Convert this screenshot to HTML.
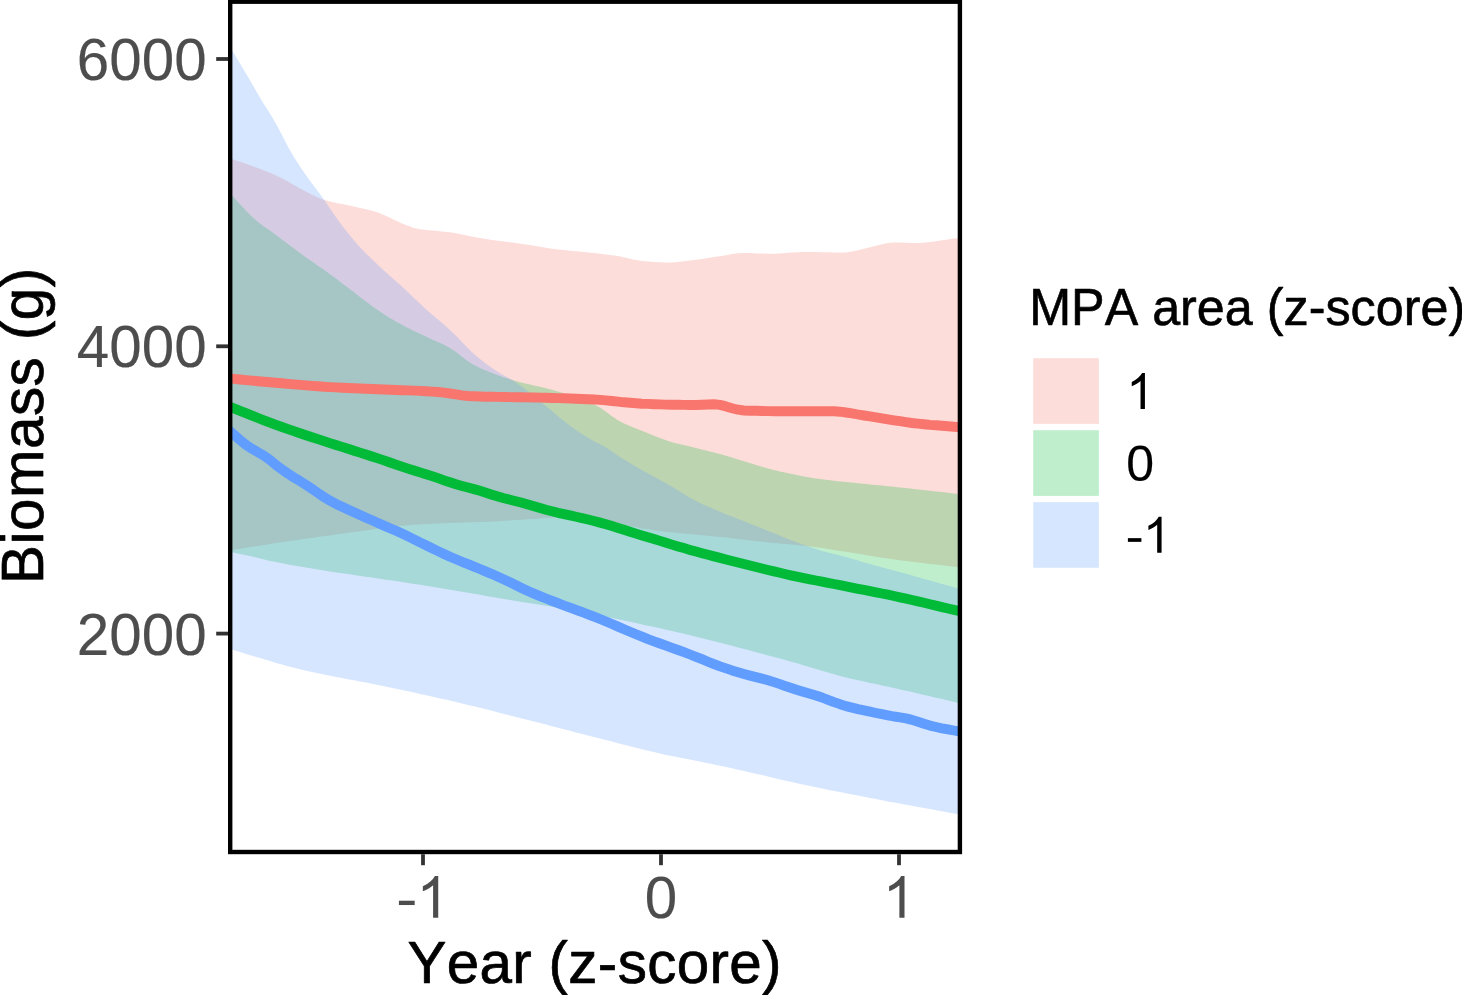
<!DOCTYPE html>
<html>
<head>
<meta charset="utf-8">
<title>Biomass vs Year by MPA area</title>
<style>
html, body { margin: 0; padding: 0; background: #ffffff; }
body { width: 1462px; height: 995px; overflow: hidden; }
svg { display: block; }
text { font-family: "Liberation Sans", sans-serif; font-kerning: none; font-variant-ligatures: none; }
</style>
</head>
<body>
<svg width="1462" height="995" viewBox="0 0 1462 995">
<rect x="0" y="0" width="1462" height="995" fill="#ffffff"/>
<defs>
<clipPath id="panel"><rect x="230.2" y="1.7" width="729.7" height="850.3"/></clipPath>
</defs>
<g clip-path="url(#panel)">
<path d="M228.0,157.8 L234.0,159.8 L240.0,161.8 L246.0,163.8 L252.0,165.9 L258.0,168.1 L264.0,170.4 L270.0,172.8 L276.0,175.4 L282.0,178.3 L288.0,181.6 L294.0,185.1 L300.0,188.4 L306.0,191.5 L312.0,194.7 L318.0,197.6 L324.0,199.9 L330.0,201.5 L336.0,202.9 L342.0,204.0 L348.0,205.2 L354.0,206.5 L360.0,207.9 L366.0,209.3 L372.0,210.8 L378.0,212.6 L384.0,214.9 L390.0,217.8 L396.0,220.8 L402.0,223.5 L408.0,225.8 L414.0,227.9 L420.0,229.2 L426.0,230.0 L432.0,230.6 L438.0,231.1 L444.0,231.7 L450.0,232.3 L456.0,233.2 L462.0,234.4 L468.0,235.7 L474.0,237.0 L480.0,238.0 L486.0,239.0 L492.0,239.9 L498.0,240.7 L504.0,241.5 L510.0,242.3 L516.0,243.1 L522.0,243.9 L528.0,244.7 L534.0,245.7 L540.0,246.8 L546.0,247.8 L552.0,248.8 L558.0,249.5 L564.0,250.1 L570.0,250.7 L576.0,251.2 L582.0,251.8 L588.0,252.4 L594.0,253.0 L600.0,253.7 L606.0,254.4 L612.0,255.3 L618.0,256.1 L624.0,257.3 L630.0,258.7 L636.0,260.1 L642.0,261.1 L648.0,261.6 L654.0,262.0 L660.0,262.3 L666.0,262.5 L672.0,262.4 L678.0,262.0 L684.0,261.3 L690.0,260.5 L696.0,259.8 L702.0,258.9 L708.0,258.0 L714.0,257.0 L720.0,256.2 L726.0,255.2 L732.0,254.1 L738.0,253.3 L744.0,253.0 L750.0,253.1 L756.0,253.4 L762.0,253.6 L768.0,253.8 L774.0,253.7 L780.0,253.4 L786.0,253.0 L792.0,252.6 L798.0,252.2 L804.0,252.0 L810.0,252.0 L816.0,252.1 L822.0,252.2 L828.0,252.3 L834.0,252.4 L840.0,252.5 L846.0,252.4 L852.0,251.6 L858.0,250.2 L864.0,248.7 L870.0,247.3 L876.0,245.8 L882.0,244.3 L888.0,243.0 L894.0,242.5 L900.0,242.6 L906.0,242.7 L912.0,242.9 L918.0,243.0 L924.0,242.8 L930.0,242.1 L936.0,241.2 L942.0,240.3 L948.0,239.4 L954.0,238.6 L960.0,238.0 L962.0,237.8 L962.0,567.7 L960.0,567.4 L954.0,566.7 L948.0,566.0 L942.0,565.3 L936.0,564.6 L930.0,563.9 L924.0,563.2 L918.0,562.5 L912.0,561.8 L906.0,561.1 L900.0,560.3 L894.0,559.5 L888.0,558.6 L882.0,557.7 L876.0,556.7 L870.0,555.8 L864.0,554.7 L858.0,553.7 L852.0,552.8 L846.0,551.8 L840.0,550.9 L834.0,550.0 L828.0,549.0 L822.0,548.1 L816.0,547.3 L810.0,546.5 L804.0,545.8 L798.0,545.2 L792.0,544.6 L786.0,544.1 L780.0,543.5 L774.0,543.0 L768.0,542.4 L762.0,541.8 L756.0,541.1 L750.0,540.4 L744.0,539.7 L738.0,539.0 L732.0,538.3 L726.0,537.6 L720.0,537.0 L714.0,536.4 L708.0,535.8 L702.0,535.2 L696.0,534.7 L690.0,534.1 L684.0,533.6 L678.0,533.0 L672.0,532.3 L666.0,531.7 L660.0,530.9 L654.0,530.2 L648.0,529.3 L642.0,528.4 L636.0,527.3 L630.0,526.0 L624.0,524.6 L618.0,523.2 L612.0,521.9 L606.0,520.8 L600.0,520.0 L594.0,519.4 L588.0,518.9 L582.0,518.4 L576.0,518.0 L570.0,517.7 L564.0,517.5 L558.0,517.5 L552.0,517.7 L546.0,518.1 L540.0,518.5 L534.0,518.9 L528.0,519.3 L522.0,519.7 L516.0,520.0 L510.0,520.4 L504.0,520.8 L498.0,521.2 L492.0,521.5 L486.0,521.8 L480.0,522.0 L474.0,522.2 L468.0,522.4 L462.0,522.5 L456.0,522.7 L450.0,522.9 L444.0,523.2 L438.0,523.4 L432.0,523.7 L426.0,524.0 L420.0,524.4 L414.0,524.8 L408.0,525.2 L402.0,525.8 L396.0,526.5 L390.0,527.2 L384.0,528.0 L378.0,528.8 L372.0,529.6 L366.0,530.4 L360.0,531.2 L354.0,532.0 L348.0,532.8 L342.0,533.7 L336.0,534.5 L330.0,535.4 L324.0,536.2 L318.0,537.1 L312.0,537.9 L306.0,538.8 L300.0,539.6 L294.0,540.5 L288.0,541.3 L282.0,542.2 L276.0,543.1 L270.0,544.0 L264.0,544.9 L258.0,545.9 L252.0,546.8 L246.0,547.7 L240.0,548.7 L234.0,549.6 L228.0,550.4 Z" fill="#F8766D" fill-opacity="0.25"/>
<path d="M228.0,191.0 L234.0,197.5 L240.0,204.2 L246.0,210.8 L252.0,216.8 L258.0,221.9 L264.0,226.4 L270.0,230.6 L276.0,234.9 L282.0,239.4 L288.0,244.0 L294.0,248.5 L300.0,253.0 L306.0,257.4 L312.0,261.5 L318.0,265.7 L324.0,269.8 L330.0,274.2 L336.0,278.6 L342.0,283.2 L348.0,287.7 L354.0,292.3 L360.0,296.9 L366.0,301.6 L372.0,306.1 L378.0,310.3 L384.0,314.2 L390.0,317.9 L396.0,321.4 L402.0,324.8 L408.0,327.9 L414.0,330.9 L420.0,333.7 L426.0,336.5 L432.0,339.4 L438.0,342.1 L444.0,344.8 L450.0,348.0 L456.0,352.0 L462.0,356.8 L468.0,361.3 L474.0,364.9 L480.0,367.9 L486.0,370.6 L492.0,373.0 L498.0,375.3 L504.0,377.4 L510.0,379.3 L516.0,381.1 L522.0,382.7 L528.0,384.1 L534.0,385.5 L540.0,386.8 L546.0,388.2 L552.0,389.7 L558.0,391.5 L564.0,393.3 L570.0,395.2 L576.0,397.2 L582.0,399.4 L588.0,401.8 L594.0,404.5 L600.0,407.6 L606.0,411.8 L612.0,416.3 L618.0,420.3 L624.0,423.5 L630.0,426.1 L636.0,428.5 L642.0,430.8 L648.0,433.2 L654.0,435.7 L660.0,438.1 L666.0,440.3 L672.0,442.2 L678.0,443.7 L684.0,445.1 L690.0,446.5 L696.0,448.0 L702.0,449.5 L708.0,450.9 L714.0,452.5 L720.0,454.1 L726.0,455.8 L732.0,457.6 L738.0,459.5 L744.0,461.3 L750.0,463.1 L756.0,465.0 L762.0,466.8 L768.0,468.5 L774.0,470.1 L780.0,471.5 L786.0,472.8 L792.0,474.1 L798.0,475.3 L804.0,476.4 L810.0,477.4 L816.0,478.4 L822.0,479.2 L828.0,480.0 L834.0,480.7 L840.0,481.4 L846.0,482.0 L852.0,482.6 L858.0,483.2 L864.0,483.8 L870.0,484.4 L876.0,485.0 L882.0,485.6 L888.0,486.2 L894.0,486.8 L900.0,487.4 L906.0,488.1 L912.0,488.7 L918.0,489.4 L924.0,490.1 L930.0,490.7 L936.0,491.4 L942.0,492.1 L948.0,492.8 L954.0,493.5 L960.0,494.2 L962.0,494.4 L962.0,703.8 L960.0,703.3 L954.0,701.9 L948.0,700.5 L942.0,699.1 L936.0,697.7 L930.0,696.3 L924.0,694.9 L918.0,693.5 L912.0,692.1 L906.0,690.7 L900.0,689.4 L894.0,688.0 L888.0,686.7 L882.0,685.4 L876.0,684.1 L870.0,682.9 L864.0,681.6 L858.0,680.3 L852.0,678.9 L846.0,677.5 L840.0,676.0 L834.0,674.3 L828.0,672.6 L822.0,670.8 L816.0,669.0 L810.0,667.2 L804.0,665.4 L798.0,663.6 L792.0,661.9 L786.0,660.3 L780.0,658.6 L774.0,657.0 L768.0,655.4 L762.0,653.8 L756.0,652.2 L750.0,650.6 L744.0,649.0 L738.0,647.4 L732.0,645.8 L726.0,644.3 L720.0,642.7 L714.0,641.2 L708.0,639.7 L702.0,638.2 L696.0,636.7 L690.0,635.2 L684.0,633.8 L678.0,632.4 L672.0,631.0 L666.0,629.7 L660.0,628.3 L654.0,627.0 L648.0,625.7 L642.0,624.4 L636.0,623.1 L630.0,621.8 L624.0,620.6 L618.0,619.3 L612.0,618.1 L606.0,616.9 L600.0,615.7 L594.0,614.5 L588.0,613.3 L582.0,612.2 L576.0,611.0 L570.0,609.9 L564.0,608.8 L558.0,607.7 L552.0,606.7 L546.0,605.7 L540.0,604.7 L534.0,603.8 L528.0,602.9 L522.0,602.0 L516.0,601.0 L510.0,600.1 L504.0,599.0 L498.0,598.0 L492.0,597.0 L486.0,595.9 L480.0,594.8 L474.0,593.7 L468.0,592.7 L462.0,591.7 L456.0,590.7 L450.0,589.7 L444.0,588.7 L438.0,587.7 L432.0,586.7 L426.0,585.8 L420.0,584.8 L414.0,583.9 L408.0,582.9 L402.0,582.0 L396.0,581.1 L390.0,580.3 L384.0,579.4 L378.0,578.5 L372.0,577.6 L366.0,576.7 L360.0,575.9 L354.0,575.0 L348.0,574.1 L342.0,573.3 L336.0,572.4 L330.0,571.4 L324.0,570.5 L318.0,569.5 L312.0,568.5 L306.0,567.5 L300.0,566.5 L294.0,565.5 L288.0,564.4 L282.0,563.3 L276.0,562.1 L270.0,560.9 L264.0,559.5 L258.0,558.1 L252.0,556.6 L246.0,555.3 L240.0,554.0 L234.0,552.8 L228.0,551.8 Z" fill="#00BA38" fill-opacity="0.25"/>
<path d="M228.0,43.5 L234.0,53.5 L240.0,63.4 L246.0,73.4 L252.0,83.7 L258.0,94.2 L264.0,104.2 L270.0,113.6 L276.0,123.8 L282.0,135.0 L288.0,146.8 L294.0,157.2 L300.0,166.6 L306.0,175.3 L312.0,183.5 L318.0,191.4 L324.0,199.6 L330.0,208.4 L336.0,217.2 L342.0,225.4 L348.0,233.1 L354.0,240.4 L360.0,247.2 L366.0,253.4 L372.0,259.3 L378.0,265.0 L384.0,270.5 L390.0,275.9 L396.0,281.2 L402.0,286.6 L408.0,292.2 L414.0,297.9 L420.0,303.6 L426.0,309.2 L432.0,314.5 L438.0,319.5 L444.0,324.5 L450.0,329.9 L456.0,335.8 L462.0,342.1 L468.0,348.3 L474.0,354.0 L480.0,359.1 L486.0,363.7 L492.0,368.0 L498.0,371.9 L504.0,375.6 L510.0,378.7 L516.0,382.5 L522.0,386.8 L528.0,391.5 L534.0,396.4 L540.0,401.4 L546.0,406.2 L552.0,411.1 L558.0,416.2 L564.0,421.1 L570.0,425.8 L576.0,430.0 L582.0,434.0 L588.0,437.8 L594.0,441.3 L600.0,444.3 L606.0,447.6 L612.0,451.6 L618.0,455.7 L624.0,459.4 L630.0,463.1 L636.0,466.7 L642.0,470.2 L648.0,473.5 L654.0,476.8 L660.0,480.0 L666.0,483.3 L672.0,486.8 L678.0,490.5 L684.0,494.2 L690.0,497.8 L696.0,501.0 L702.0,503.9 L708.0,506.6 L714.0,509.2 L720.0,511.7 L726.0,514.2 L732.0,516.6 L738.0,518.9 L744.0,521.3 L750.0,523.7 L756.0,526.1 L762.0,528.5 L768.0,530.9 L774.0,533.3 L780.0,535.8 L786.0,538.2 L792.0,540.5 L798.0,542.8 L804.0,545.0 L810.0,547.1 L816.0,549.1 L822.0,550.9 L828.0,552.4 L834.0,553.9 L840.0,555.4 L846.0,557.1 L852.0,558.8 L858.0,560.6 L864.0,562.4 L870.0,564.1 L876.0,565.7 L882.0,567.3 L888.0,568.9 L894.0,570.5 L900.0,572.2 L906.0,573.8 L912.0,575.5 L918.0,577.2 L924.0,578.9 L930.0,580.6 L936.0,582.3 L942.0,584.0 L948.0,585.6 L954.0,587.3 L960.0,589.0 L962.0,589.5 L962.0,815.0 L960.0,814.6 L954.0,813.5 L948.0,812.4 L942.0,811.3 L936.0,810.2 L930.0,809.1 L924.0,808.0 L918.0,806.9 L912.0,805.8 L906.0,804.7 L900.0,803.6 L894.0,802.5 L888.0,801.4 L882.0,800.2 L876.0,799.1 L870.0,797.9 L864.0,796.8 L858.0,795.6 L852.0,794.4 L846.0,793.3 L840.0,792.1 L834.0,790.9 L828.0,789.8 L822.0,788.6 L816.0,787.3 L810.0,786.1 L804.0,784.8 L798.0,783.5 L792.0,782.1 L786.0,780.8 L780.0,779.4 L774.0,778.0 L768.0,776.5 L762.0,775.1 L756.0,773.7 L750.0,772.4 L744.0,771.0 L738.0,769.7 L732.0,768.3 L726.0,767.0 L720.0,765.7 L714.0,764.4 L708.0,763.2 L702.0,761.9 L696.0,760.7 L690.0,759.6 L684.0,758.4 L678.0,757.3 L672.0,756.1 L666.0,754.9 L660.0,753.5 L654.0,752.1 L648.0,750.7 L642.0,749.2 L636.0,747.7 L630.0,746.2 L624.0,744.7 L618.0,743.2 L612.0,741.6 L606.0,740.1 L600.0,738.5 L594.0,737.0 L588.0,735.5 L582.0,733.9 L576.0,732.4 L570.0,730.8 L564.0,729.3 L558.0,727.7 L552.0,726.2 L546.0,724.6 L540.0,723.1 L534.0,721.5 L528.0,720.0 L522.0,718.5 L516.0,716.9 L510.0,715.4 L504.0,713.9 L498.0,712.4 L492.0,710.8 L486.0,709.3 L480.0,707.8 L474.0,706.3 L468.0,704.9 L462.0,703.4 L456.0,702.0 L450.0,700.6 L444.0,699.2 L438.0,697.9 L432.0,696.5 L426.0,695.2 L420.0,693.9 L414.0,692.6 L408.0,691.3 L402.0,690.0 L396.0,688.8 L390.0,687.5 L384.0,686.3 L378.0,685.0 L372.0,683.8 L366.0,682.6 L360.0,681.4 L354.0,680.3 L348.0,679.2 L342.0,678.0 L336.0,676.9 L330.0,675.7 L324.0,674.6 L318.0,673.3 L312.0,672.0 L306.0,670.7 L300.0,669.3 L294.0,667.8 L288.0,666.2 L282.0,664.6 L276.0,662.9 L270.0,661.1 L264.0,659.3 L258.0,657.5 L252.0,655.7 L246.0,653.9 L240.0,652.1 L234.0,650.3 L228.0,648.5 Z" fill="#619CFF" fill-opacity="0.25"/>
<path d="M228.0,378.3 L234.0,378.9 L240.0,379.5 L246.0,380.1 L252.0,380.6 L258.0,381.2 L264.0,381.8 L270.0,382.3 L276.0,382.8 L282.0,383.3 L288.0,383.9 L294.0,384.4 L300.0,384.9 L306.0,385.4 L312.0,385.9 L318.0,386.3 L324.0,386.8 L330.0,387.1 L336.0,387.4 L342.0,387.7 L348.0,388.0 L354.0,388.3 L360.0,388.5 L366.0,388.8 L372.0,389.0 L378.0,389.3 L384.0,389.5 L390.0,389.8 L396.0,390.0 L402.0,390.2 L408.0,390.4 L414.0,390.6 L420.0,390.9 L426.0,391.2 L432.0,391.6 L438.0,392.0 L444.0,392.6 L450.0,393.5 L456.0,394.4 L462.0,395.3 L468.0,396.0 L474.0,396.3 L480.0,396.5 L486.0,396.7 L492.0,396.8 L498.0,396.9 L504.0,397.0 L510.0,397.1 L516.0,397.2 L522.0,397.3 L528.0,397.4 L534.0,397.5 L540.0,397.6 L546.0,397.8 L552.0,398.0 L558.0,398.1 L564.0,398.3 L570.0,398.5 L576.0,398.7 L582.0,399.0 L588.0,399.2 L594.0,399.5 L600.0,399.9 L606.0,400.4 L612.0,401.0 L618.0,401.6 L624.0,402.3 L630.0,402.8 L636.0,403.3 L642.0,403.7 L648.0,403.9 L654.0,404.2 L660.0,404.4 L666.0,404.6 L672.0,404.7 L678.0,404.8 L684.0,404.9 L690.0,405.0 L696.0,405.0 L702.0,404.8 L708.0,404.5 L714.0,404.3 L720.0,404.9 L726.0,406.4 L732.0,408.2 L738.0,409.7 L744.0,410.5 L750.0,410.7 L756.0,410.8 L762.0,411.0 L768.0,411.1 L774.0,411.2 L780.0,411.2 L786.0,411.3 L792.0,411.3 L798.0,411.3 L804.0,411.3 L810.0,411.3 L816.0,411.3 L822.0,411.3 L828.0,411.3 L834.0,411.3 L840.0,411.7 L846.0,412.5 L852.0,413.4 L858.0,414.5 L864.0,415.5 L870.0,416.4 L876.0,417.3 L882.0,418.3 L888.0,419.3 L894.0,420.3 L900.0,421.2 L906.0,422.1 L912.0,423.0 L918.0,423.7 L924.0,424.3 L930.0,424.9 L936.0,425.3 L942.0,425.8 L948.0,426.3 L954.0,426.8 L960.0,427.3 L962.0,427.5" fill="none" stroke="#F8766D" stroke-width="9.9" stroke-linejoin="round"/>
<path d="M228.0,406.0 L234.0,408.4 L240.0,410.8 L246.0,413.2 L252.0,415.6 L258.0,418.0 L264.0,420.3 L270.0,422.6 L276.0,424.9 L282.0,427.0 L288.0,429.1 L294.0,431.2 L300.0,433.2 L306.0,435.2 L312.0,437.2 L318.0,439.1 L324.0,441.1 L330.0,443.1 L336.0,445.0 L342.0,446.9 L348.0,448.8 L354.0,450.7 L360.0,452.6 L366.0,454.5 L372.0,456.5 L378.0,458.4 L384.0,460.4 L390.0,462.5 L396.0,464.6 L402.0,466.6 L408.0,468.6 L414.0,470.5 L420.0,472.4 L426.0,474.2 L432.0,476.1 L438.0,478.2 L444.0,480.3 L450.0,482.3 L456.0,484.2 L462.0,485.9 L468.0,487.5 L474.0,489.1 L480.0,490.8 L486.0,492.7 L492.0,494.7 L498.0,496.5 L504.0,498.2 L510.0,499.7 L516.0,501.2 L522.0,502.8 L528.0,504.5 L534.0,506.3 L540.0,508.1 L546.0,509.8 L552.0,511.3 L558.0,512.8 L564.0,514.1 L570.0,515.4 L576.0,516.8 L582.0,518.1 L588.0,519.5 L594.0,521.0 L600.0,522.6 L606.0,524.3 L612.0,526.1 L618.0,527.9 L624.0,529.8 L630.0,531.7 L636.0,533.6 L642.0,535.4 L648.0,537.2 L654.0,539.0 L660.0,540.9 L666.0,542.7 L672.0,544.6 L678.0,546.4 L684.0,548.1 L690.0,549.9 L696.0,551.6 L702.0,553.2 L708.0,554.8 L714.0,556.4 L720.0,557.9 L726.0,559.5 L732.0,561.0 L738.0,562.5 L744.0,564.0 L750.0,565.5 L756.0,567.0 L762.0,568.5 L768.0,570.0 L774.0,571.4 L780.0,572.8 L786.0,574.2 L792.0,575.6 L798.0,576.9 L804.0,578.1 L810.0,579.3 L816.0,580.5 L822.0,581.7 L828.0,582.9 L834.0,584.0 L840.0,585.2 L846.0,586.4 L852.0,587.6 L858.0,588.8 L864.0,589.9 L870.0,591.1 L876.0,592.3 L882.0,593.5 L888.0,594.7 L894.0,596.0 L900.0,597.3 L906.0,598.6 L912.0,600.0 L918.0,601.4 L924.0,602.8 L930.0,604.2 L936.0,605.6 L942.0,607.1 L948.0,608.5 L954.0,609.9 L960.0,611.3 L962.0,611.8" fill="none" stroke="#00BA38" stroke-width="9.9" stroke-linejoin="round"/>
<path d="M228.0,429.5 L234.0,434.7 L240.0,440.0 L246.0,444.9 L252.0,448.8 L258.0,452.2 L264.0,455.7 L270.0,460.0 L276.0,465.0 L282.0,469.4 L288.0,473.6 L294.0,477.5 L300.0,481.1 L306.0,484.9 L312.0,488.9 L318.0,493.0 L324.0,497.1 L330.0,500.7 L336.0,503.9 L342.0,506.7 L348.0,509.5 L354.0,512.3 L360.0,515.0 L366.0,517.7 L372.0,520.3 L378.0,523.0 L384.0,525.6 L390.0,528.2 L396.0,530.8 L402.0,533.5 L408.0,536.4 L414.0,539.4 L420.0,542.4 L426.0,545.3 L432.0,548.2 L438.0,551.1 L444.0,553.9 L450.0,556.7 L456.0,559.3 L462.0,561.8 L468.0,564.1 L474.0,566.6 L480.0,569.0 L486.0,571.6 L492.0,574.1 L498.0,576.8 L504.0,579.5 L510.0,582.3 L516.0,585.3 L522.0,588.2 L528.0,591.0 L534.0,593.6 L540.0,596.1 L546.0,598.5 L552.0,600.9 L558.0,603.2 L564.0,605.5 L570.0,607.7 L576.0,609.9 L582.0,612.0 L588.0,614.3 L594.0,616.6 L600.0,619.0 L606.0,621.5 L612.0,624.0 L618.0,626.6 L624.0,629.2 L630.0,631.8 L636.0,634.3 L642.0,636.7 L648.0,639.1 L654.0,641.3 L660.0,643.5 L666.0,645.7 L672.0,647.9 L678.0,650.0 L684.0,652.2 L690.0,654.5 L696.0,656.8 L702.0,659.2 L708.0,661.7 L714.0,664.1 L720.0,666.4 L726.0,668.4 L732.0,670.4 L738.0,672.2 L744.0,674.0 L750.0,675.6 L756.0,677.1 L762.0,678.6 L768.0,680.2 L774.0,682.1 L780.0,684.1 L786.0,686.3 L792.0,688.3 L798.0,690.2 L804.0,692.0 L810.0,693.7 L816.0,695.5 L822.0,697.5 L828.0,699.8 L834.0,702.1 L840.0,704.2 L846.0,706.1 L852.0,707.6 L858.0,709.1 L864.0,710.4 L870.0,711.7 L876.0,713.0 L882.0,714.2 L888.0,715.4 L894.0,716.5 L900.0,717.4 L906.0,718.4 L912.0,719.9 L918.0,721.8 L924.0,723.8 L930.0,725.6 L936.0,727.0 L942.0,728.3 L948.0,729.4 L954.0,730.5 L960.0,731.6 L962.0,732.0" fill="none" stroke="#619CFF" stroke-width="9.9" stroke-linejoin="round"/>
</g>
<rect x="230.2" y="1.7" width="729.7" height="850.3" fill="none" stroke="#000000" stroke-width="4.4"/>

<line x1="216.2" x2="228.0" y1="59.0" y2="59.0" stroke="#333333" stroke-width="3.8"/>
<text transform="translate(206.60,79.90) scale(1.0,1.012)" font-size="58.33" fill="#4D4D4D" text-anchor="end" stroke="#4D4D4D" stroke-width="0.15" stroke-linejoin="round">6000</text>
<line x1="216.2" x2="228.0" y1="346.3" y2="346.3" stroke="#333333" stroke-width="3.8"/>
<text transform="translate(206.60,367.20) scale(1.0,1.012)" font-size="58.33" fill="#4D4D4D" text-anchor="end" stroke="#4D4D4D" stroke-width="0.15" stroke-linejoin="round">4000</text>
<line x1="216.2" x2="228.0" y1="633.6" y2="633.6" stroke="#333333" stroke-width="3.8"/>
<text transform="translate(206.60,654.50) scale(1.0,1.012)" font-size="58.33" fill="#4D4D4D" text-anchor="end" stroke="#4D4D4D" stroke-width="0.15" stroke-linejoin="round">2000</text>
<line x1="423.0" x2="423.0" y1="854.2" y2="865.2" stroke="#333333" stroke-width="3.8"/>
<rect x="398.92" y="900.71" width="15.75" height="4.33" fill="#4D4D4D"/>
<path transform="translate(416.49,917.80) scale(0.02848,-0.02848)" d="M763 0H583V1147Q518 1085 412.5 1023Q307 961 223 930V1104Q374 1175 487 1276Q600 1377 647 1472H763Z" fill="#4D4D4D"/>
<line x1="661.0" x2="661.0" y1="854.2" y2="865.2" stroke="#333333" stroke-width="3.8"/>
<text transform="translate(661.00,917.80) scale(1.0,1.012)" font-size="58.33" fill="#4D4D4D" text-anchor="middle" stroke="#4D4D4D" stroke-width="0.15" stroke-linejoin="round">0</text>
<line x1="899.0" x2="899.0" y1="854.2" y2="865.2" stroke="#333333" stroke-width="3.8"/>
<path transform="translate(882.78,917.80) scale(0.02848,-0.02848)" d="M763 0H583V1147Q518 1085 412.5 1023Q307 961 223 930V1104Q374 1175 487 1276Q600 1377 647 1472H763Z" fill="#4D4D4D"/>
<text transform="translate(594.60,983.10) scale(1.0,1.02)" font-size="58.33" fill="#000000" text-anchor="middle" stroke="#000000" stroke-width="0.7" stroke-linejoin="round" letter-spacing="0.35">Year (z-score)</text>
<text transform="translate(43.00,425.60) rotate(-90) scale(1.0,1.02)" font-size="58.33" fill="#000000" text-anchor="middle" stroke="#000000" stroke-width="0.7" stroke-linejoin="round" letter-spacing="0.5">Biomass (g)</text>
<text transform="translate(1029.20,324.90) scale(1.0,1.02)" font-size="50.3" fill="#000000" text-anchor="start" stroke="#000000" stroke-width="0.6" stroke-linejoin="round">MPA area (z-score)</text>
<rect x="1033.2" y="358.2" width="65.7" height="65.7" fill="#F8766D" fill-opacity="0.25"/>
<path transform="translate(1126.30,408.90) scale(0.02441,-0.02441)" d="M763 0H583V1147Q518 1085 412.5 1023Q307 961 223 930V1104Q374 1175 487 1276Q600 1377 647 1472H763Z" fill="#000000"/>
<rect x="1033.2" y="430.2" width="65.7" height="65.7" fill="#00BA38" fill-opacity="0.25"/>
<text transform="translate(1126.30,480.90) scale(1.0,1.012)" font-size="50.0" fill="#000000" text-anchor="start" stroke="#000000" stroke-width="0.15" stroke-linejoin="round">0</text>
<rect x="1033.2" y="502.1" width="65.7" height="65.7" fill="#619CFF" fill-opacity="0.25"/>
<rect x="1127.89" y="538.15" width="13.50" height="3.71" fill="#000000"/>
<path transform="translate(1142.95,552.80) scale(0.02441,-0.02441)" d="M763 0H583V1147Q518 1085 412.5 1023Q307 961 223 930V1104Q374 1175 487 1276Q600 1377 647 1472H763Z" fill="#000000"/>
</svg>
</body>
</html>
